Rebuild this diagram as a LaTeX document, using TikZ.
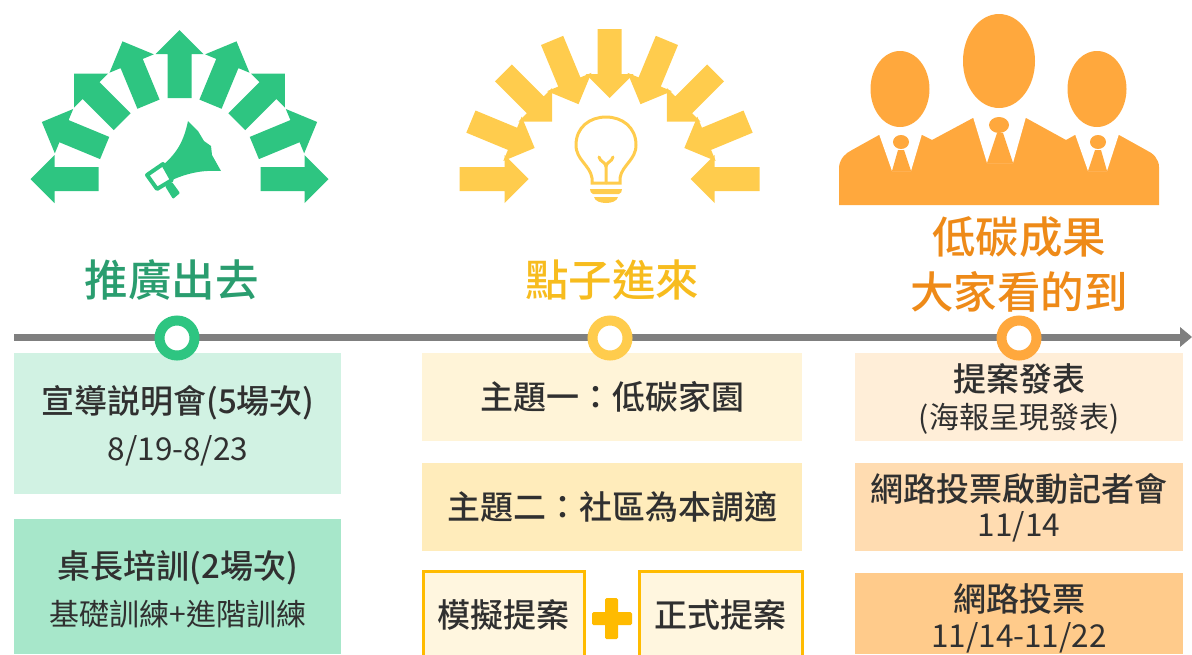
\documentclass[tikz,border=0pt]{standalone}
\usepackage{fontspec}
\setmainfont{Noto Sans CJK TC}
\newfontfamily\medf{Noto Sans CJK TC Medium}
\definecolor{grn}{HTML}{2EC581}
\definecolor{grnT}{HTML}{2A9D6F}
\definecolor{yel}{HTML}{FFCC4D}
\definecolor{yelT}{HTML}{F7BC1E}
\definecolor{yelB}{HTML}{FFBB00}
\definecolor{org}{HTML}{FFA83D}
\definecolor{orgT}{HTML}{EE8A18}
\definecolor{lineg}{HTML}{7F7F7F}
\definecolor{txt}{HTML}{303030}
\tikzset{
 x=1pt,y=-1pt,
 hd/.style={inner sep=0pt,font=\medf\fontsize{43.5}{52}\selectfont},
 big/.style={inner sep=0pt,text=txt,font=\medf\fontsize{33}{38}\selectfont},
 small/.style={inner sep=0pt,text=txt,font=\fontsize{30}{34}\selectfont},
 num/.style={inner sep=0pt,text=txt,font=\fontsize{31.5}{34}\selectfont},
 dot/.style={circle,draw=#1,line width=10pt,fill=white,minimum size=35pt,inner sep=0pt},
}
\begin{document}
\begin{tikzpicture}
\useasboundingbox (0,0) rectangle (1192,654);
% green arrows
\foreach \a in {0,22.5,...,180}{
 \fill[grn,shift={(179.5,179)},rotate=\a] (81,-12) -- (125,-12) -- (125,-24) -- (149,0) -- (125,24) -- (125,12) -- (81,12) -- cycle;
}
% yellow arrows
\foreach \a in {0,22.5,...,180}{
 \fill[yel,shift={(609.5,179)},rotate=\a] (81,0) -- (105,-24) -- (105,-12) -- (150,-12) -- (150,12) -- (105,12) -- (105,24) -- cycle;
}
% megaphone
\fill[grn] (188,121) .. controls (184,140) and (178,152) .. (163,165) -- (172,180) .. controls (190,172) and (205,170) .. (221,171) -- (212,155) -- (211,146) -- (204,141) -- (198,131) -- cycle;
\draw[grn,line width=4pt,fill=white,line join=round] (147,175) -- (163,164) -- (172,180) -- (157,189) -- cycle;
\fill[grn,rounded corners=1pt] (165,186) -- (172,182) -- (180,193) -- (173,199) -- cycle;
% bulb
\draw[yel,line width=3pt,line cap=round] (592,183) -- (592,178) .. controls (590,165) and (576,160) .. (576,145) .. controls (576,127) and (590,117) .. (606,117) .. controls (622,117) and (636,127) .. (636,145) .. controls (636,160) and (622,165) .. (620,178) -- (620,183) -- cycle;
\draw[yel,line width=3pt,line cap=round] (606,183) -- (606,167) (599,157) .. controls (600,162) and (606,162) .. (606,167) .. controls (606,162) and (612,162) .. (613,157);
\fill[yel] (590,189) -- (622,189) .. controls (622,192) and (621,193) .. (619,194) -- (593,194) .. controls (591,193) and (590,192) .. (590,189) -- cycle;
\fill[yel] (594,197) -- (618,197) .. controls (617,201) and (612,203) .. (606,203) .. controls (600,203) and (595,201) .. (594,197) -- cycle;
% people
\fill[org] (839,205) -- (839,167) .. controls (840,158) and (846,153) .. (852,150) -- (879,135) -- (922,135) -- (932,140) -- (973,118) -- (1026,118) -- (1066,140) -- (1075,135) -- (1119,135) -- (1146,150) .. controls (1153,153) and (1159,159) .. (1159,167) -- (1159,205) -- cycle;
\fill[white] (879,134) -- (892,171) -- (911,171) -- (922,134) -- cycle;
\fill[white] (973,117) -- (987,163) -- (1013,163) -- (1026,117) -- cycle;
\fill[white] (1075,134) -- (1088,171) -- (1107,171) -- (1119,134) -- cycle;
\fill[org] (892,171) -- (898,150) -- (904,150) -- (911,171) -- cycle;
\fill[org] (987,163) -- (997,133) -- (1003,133) -- (1013,163) -- cycle;
\fill[org] (1088,171) -- (1095,150) -- (1101,150) -- (1107,171) -- cycle;
\fill[org] (901,142) ellipse [x radius=8,y radius=7];
\fill[org] (999,125) ellipse [x radius=10,y radius=8];
\fill[org] (1098,142) ellipse [x radius=8,y radius=7];
\fill[org] (900,89) ellipse [x radius=29.5,y radius=38];
\fill[org] (999,61) ellipse [x radius=36,y radius=47];
\fill[org] (1097,89) ellipse [x radius=29.5,y radius=38];
% headings
\node[hd,text=grnT] (h1) at (171.5,280) {推廣出去};
\node[hd,text=yelT] (h2) at (612,280) {點子進來};
\node[hd,text=orgT,align=center] (h3) at (1019,264) {低碳成果\\[3pt]大家看的到};
% timeline
\coordinate (ts) at (14,337);
\coordinate (te) at (1192,337);
\draw[lineg,line width=7pt] (ts) -- (1182,337);
\fill[lineg] (1180,327) -- (te) -- (1180,347) -- cycle;
% boxes
\fill[fill=grn!22] (14,353) rectangle (341,494);
\fill[fill=grn!42] (14,519) rectangle (341,654);
\fill[fill=yel!22] (422,353) rectangle (802,441);
\fill[fill=yel!38] (422,463) rectangle (802,551);
\draw[yelB,line width=3pt,fill=yel!18] (423,571) rectangle (584,670);
\draw[yelB,line width=3pt,fill=yel!18] (639,571) rectangle (802,670);
\fill[org!20] (855,353) rectangle (1183,441);
\fill[org!40] (855,463) rectangle (1183,551);
\fill[org!60] (855,573) rectangle (1183,654);
% dots
\node[dot=grn] (d1) at (177,338) {};
\node[dot=yel] (d2) at (610,338) {};
\node[dot=org] (d3) at (1019,338) {};
% plus
\fill[yelB,rounded corners=1.5pt] (605,598) rectangle (618,639);
\fill[yelB,rounded corners=1.5pt] (592,612) rectangle (632,625);
% texts
\node[big] (t1) at (178,403) {宣導説明會(5場次)};
\node[num] (t1b) at (178,451) {8/19-8/23};
\node[big] (t2) at (178,568) {桌長培訓(2場次)};
\node[small] (t2b) at (178,614) {基礎訓練+進階訓練};
\node[big] (t3) at (612,397) {主題一：低碳家園};
\node[big] (t4) at (612,507) {主題二：社區為本調適};
\node[big] (t5) at (503,615) {模擬提案};
\node[big] (t6) at (720,615) {正式提案};
\node[big] (t7) at (1019,379) {提案發表};
\node[small] (t7b) at (1019,419) {(海報呈現發表)};
\node[big] (t8) at (1019,489) {網路投票啟動記者會};
\node[num] (t8b) at (1019,527) {11/14};
\node[big] (t9) at (1019,599) {網路投票};
\node[num] (t9b) at (1019,638) {11/14-11/22};
\end{tikzpicture}
\end{document}
